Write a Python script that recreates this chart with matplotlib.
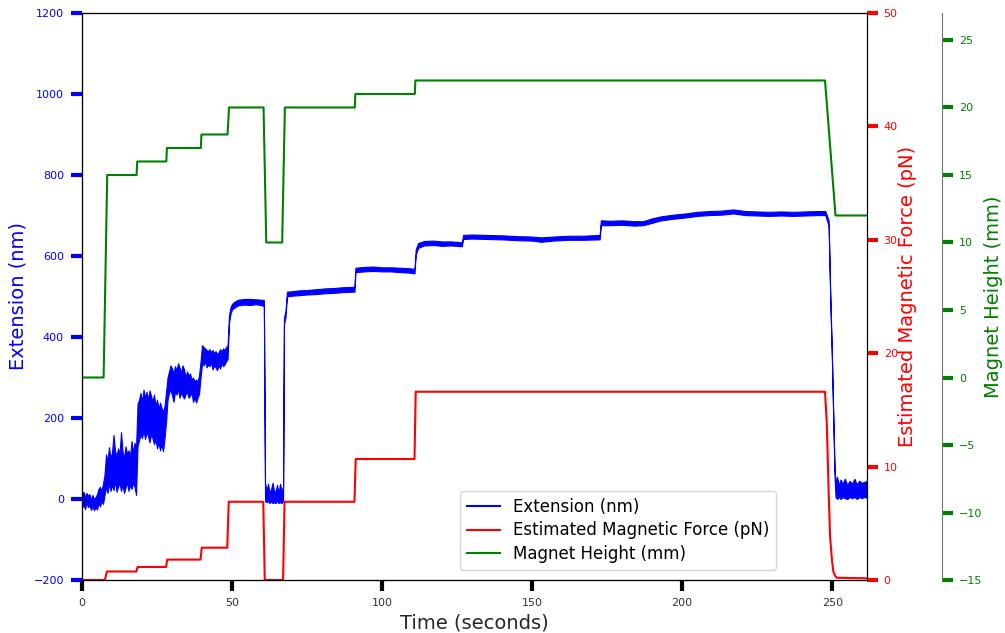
"""
plot.py
Extension, estimated magnetic force and magnet height over time (three y axes).
"""

import matplotlib
matplotlib.use('Agg')
import matplotlib.pyplot as plt
from matplotlib.lines import Line2D

# extension (nm): time points with lower / upper edge of the noisy trace
ext_t = [0, 0.5, 1, 1.5, 2, 2.5, 3, 3.5, 4, 4.5, 5, 5.5, 6, 6.5, 7, 7.5,
         8, 8.5, 9, 9.5, 10, 10.5, 11, 11.5, 12, 12.5, 13, 13.5, 14, 14.5,
         15, 15.5, 16, 16.5, 17, 17.5, 18,
         18.5, 19, 19.5, 20, 20.5, 21, 21.5, 22, 22.5, 23, 23.5, 24, 24.5,
         25, 25.5, 26, 26.5, 27, 27.5, 28,
         28.5, 29, 29.5, 30, 30.5, 31, 31.5, 32, 32.5, 33, 33.5, 34, 34.5,
         35, 35.5, 36, 36.5, 37, 37.5, 38, 38.5, 39, 39.5,
         40, 40.5, 41, 41.5, 42, 42.5, 43, 43.5, 44, 44.5, 45, 45.5, 46,
         46.5, 47, 47.5, 48, 48.5,
         49, 49.5, 50, 51, 52, 54, 56, 58, 60, 60.6,
         61.0, 61.5, 62, 62.5, 63, 63.5, 64, 64.5, 65, 65.5, 66, 66.5, 67,
         67.3, 67.8, 68.3, 70, 72, 75, 78, 81, 84, 87, 90.8,
         91.1, 94, 97, 100, 103, 106, 109, 110.8,
         111.2, 112, 114, 117, 120, 123, 126.6,
         127.0, 130, 135, 140, 145, 150, 153, 157, 162, 167, 172.5,
         172.9, 176, 180, 184, 187, 190, 193, 197, 201, 205, 209, 213, 217,
         221, 225, 229, 233, 237, 241, 245, 247.7,
         248.8, 249.3, 249.9, 250.4, 250.8, 251.1, 251.6, 252.2, 252.8,
         253.5, 254.2, 255, 255.8, 256.6, 257.4, 258.2, 259, 259.8, 260.6,
         261.6]
ext_lo = [-22, -12, -25, -8, -20, -15, -27, -18, -28, -20, -26, -10, -18, -5, -12, 10,
          30, 15, 40, 20, 35, 22, 45, 18, 30, 40, 20, 35, 15, 28,
          42, 20, 35, 25, 40, 30, 10,
          130, 145, 160, 150, 170, 148, 165, 155, 140, 160, 150, 135, 148,
          125, 140, 120, 135, 118, 150, 190,
          245, 262, 270, 255, 240, 265, 258, 272, 250, 262, 255, 248, 258,
          265, 250, 255, 262, 240, 250, 238, 250, 260, 300,
          335, 330, 340, 325, 332, 328, 338, 320, 330, 325, 318, 330, 322,
          335, 328, 332, 340, 345,
          435, 458, 468, 474, 478, 480, 479, 481, 478, 477,
          -5, -8, -5, -10, -6, -10, -8, -10, -5, -10, -8, -10, -5,
          432, 448, 500, 502, 503, 505, 506, 508, 509, 511, 512,
          560, 562, 563, 562, 562, 560, 559, 557,
          603, 620, 626, 627, 625, 626, 624,
          642, 643, 642, 641, 639, 638, 635, 638, 640, 640, 641,
          676, 676, 677, 675, 676, 682, 688, 692, 695, 699, 701, 702, 705,
          701, 700, 699, 700, 699, 700, 701, 701,
          674, 508, 343, 179, 52, 5, 0, 5, 0,
          5, 2, 0, 5, 2, 5, 0, 5, 2, 5,
          3]
ext_hi = [10, 18, 5, 15, 8, 12, -2, 10, 0, 5, 12, 25, 30, 20, 38, 60,
          110, 95, 128, 100, 115, 158, 120, 105, 125, 110, 165, 118, 100, 130,
          112, 120, 105, 143, 115, 139, 125,
          235, 245, 262, 240, 270, 250, 265, 245, 268, 255, 240, 258, 230,
          245, 222, 238, 225, 215, 230, 265,
          300, 315, 330, 322, 310, 328, 318, 335, 325, 312, 330, 320, 300,
          315, 305, 310, 295, 300, 290, 295, 290, 305, 340,
          380, 375, 372, 368, 365, 370, 362, 368, 360, 365, 358, 362, 370,
          365, 372, 368, 375, 380,
          455, 474, 482, 488, 492, 494, 494, 493, 492, 491,
          40, 20, 38, 15, 25, 40, 20, 18, 35, 15, 38, 20, 30,
          448, 464, 512, 513, 515, 516, 518, 520, 521, 523, 524,
          571, 573, 574, 572, 572, 571, 570, 568,
          616, 632, 637, 638, 636, 636, 634,
          652, 653, 652, 651, 649, 648, 646, 648, 650, 650, 652,
          688, 687, 688, 686, 686, 693, 698, 702, 705, 709, 711, 712, 715,
          711, 710, 709, 710, 709, 710, 711, 711,
          688, 522, 357, 193, 72, 40, 55, 35, 48,
          38, 50, 35, 45, 38, 50, 36, 45, 40, 42,
          45]

# estimated magnetic force (pN)
force_t = [0, 7.6, 8.3, 18.1, 18.5, 28.0, 28.4, 39.5, 39.9, 48.4, 48.9,
           60.4, 60.9, 67.0, 67.5, 90.8, 91.2, 110.8, 111.2, 247.6, 248.2,
           248.8, 249.3, 249.9, 250.4, 251.0, 251.6, 261.6]
force = [0, 0, 0.75, 0.75, 1.15, 1.15, 1.8, 1.8, 2.85, 2.85, 6.9,
         6.9, 0, 0, 6.9, 6.9, 10.67, 10.67, 16.6, 16.6, 13.8,
         7.9, 3.8, 1.8, 0.7, 0.35, 0.2, 0.15]

# magnet height (mm)
height_t = [0, 7.2, 8.4, 18.2, 18.4, 28.1, 28.3, 39.6, 39.8, 48.5, 49.0,
            60.5, 61.4, 66.7, 67.6, 90.9, 91.1, 110.9, 111.1, 247.6, 251.1,
            261.6]
height = [0, 0, 15, 15, 16, 16, 17, 17, 18, 18, 20,
          20, 10, 10, 20, 20, 21, 21, 22, 22, 12,
          12]

x_ticks = [0, 50, 100, 150, 200, 250]
ext_ticks = [-200, 0, 200, 400, 600, 800, 1000, 1200]
force_ticks = [0, 10, 20, 30, 40, 50]
height_ticks = [-15, -10, -5, 0, 5, 10, 15, 20, 25]


def plot_magnet_run(filename):
    """
    Plot extension, force and magnet height against time and save it.
    """
    fig, ax1 = plt.subplots(figsize=(10.05, 6.33), dpi=100)
    fig.subplots_adjust(left=0.0816, right=0.8627, bottom=0.0837, top=0.9795)
    ax2 = ax1.twinx()
    ax3 = ax1.twinx()
    ax3.spines['right'].set_position(('axes', 1.096))
    ax3.spines['right'].set_color('0.45')

    ax1.fill_between(ext_t, ext_lo, ext_hi, facecolor='blue',
                     edgecolor='blue', linewidth=0.8)
    ax2.plot(force_t, force, color='red', linewidth=1.5)
    ax3.plot(height_t, height, color='green', linewidth=1.5)

    ax1.set_xlim(0, 261.6)
    ax1.set_ylim(-200, 1200)
    ax2.set_ylim(0, 50)
    ax3.set_ylim(-15, 27)
    ax1.set_xticks(x_ticks)
    ax1.set_yticks(ext_ticks)
    ax2.set_yticks(force_ticks)
    ax3.set_yticks(height_ticks)

    ax1.tick_params(axis='x', colors='black', length=8, width=3, labelsize=8,
                    pad=5)
    ax1.tick_params(axis='x', labelcolor='0.2')
    ax1.tick_params(axis='y', colors='blue', length=8, width=3, labelsize=8,
                    pad=5)
    ax2.tick_params(axis='y', colors='red', length=8, width=3, labelsize=8,
                    pad=4)
    ax3.tick_params(axis='y', colors='green', length=8, width=3, labelsize=8,
                    pad=4)

    ax1.set_xlabel('Time (seconds)', fontsize=14, color='0.15')
    ax1.set_ylabel('Extension (nm)', fontsize=14, color='blue', labelpad=4)
    ax2.set_ylabel('Estimated Magnetic Force (pN)', fontsize=14, color='red',
                   labelpad=0)
    ax3.set_ylabel('Magnet Height (mm)', fontsize=14, color='green',
                   labelpad=1)

    handles = [Line2D([], [], color='blue', linewidth=1.5),
               Line2D([], [], color='red', linewidth=1.5),
               Line2D([], [], color='green', linewidth=1.5)]
    labels = ['Extension (nm)', 'Estimated Magnetic Force (pN)',
              'Magnet Height (mm)']
    ax3.legend(handles, labels, loc='lower center',
               bbox_to_anchor=(0.683, 0.003), fontsize=12, labelspacing=0.35)

    fig.savefig(filename, dpi=100)
    plt.close(fig)


plot_magnet_run('out.png')
